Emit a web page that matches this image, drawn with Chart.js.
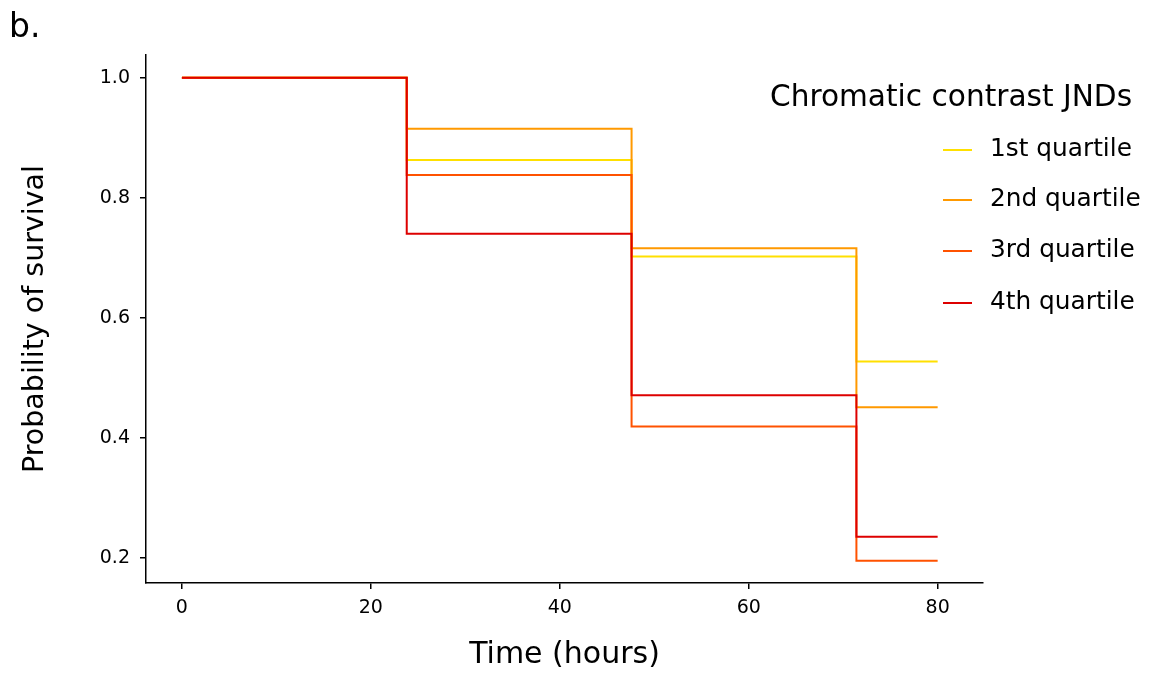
<!DOCTYPE html>
<html>
<head>
<meta charset="utf-8">
<script src="https://cdn.jsdelivr.net/npm/chart.js@4"></script>
<style>
  body { margin: 0; background: #fff; }
  #wrap { width: 1152px; height: 673px; position: relative; }
</style>
</head>
<body>
<div id="wrap"><canvas id="kmChart" width="1152" height="673"></canvas></div>
<script>
// survival curves
const times = [0, 23.8, 47.6, 71.4, 80];
const q1 = [1.0, 0.863, 0.702, 0.527, 0.527];
const q2 = [1.0, 0.915, 0.716, 0.451, 0.451];
const q3 = [1.0, 0.838, 0.419, 0.195, 0.195];
const q4 = [1.0, 0.740, 0.471, 0.235, 0.235];
const seriesNames = ['1st quartile', '2nd quartile', '3rd quartile', '4th quartile'];
const seriesColors = ['#FFE000', '#FF9900', '#FF5200', '#DD0000'];
const xTicks = [0, 20, 40, 60, 80];
const yTicks = [0.2, 0.4, 0.6, 0.8, 1.0];
const legendTitle = 'Chromatic contrast JNDs';

const FONT = "'DejaVu Sans', Verdana, sans-serif";

const toPoints = vals => times.map((t, i) => ({ x: t, y: vals[i] }));

const datasets = [q1, q2, q3, q4].map((vals, i) => ({
  label: seriesNames[i],
  data: toPoints(vals),
  borderColor: seriesColors[i],
  borderWidth: 2,
  pointRadius: 0,
  stepped: 'before',
  fill: false,
  order: 4 - i
}));

// legend and panel letter drawn on top of the plot
const extraText = {
  id: 'extraText',
  afterDraw(chart) {
    const ctx = chart.ctx;
    ctx.save();
    ctx.fillStyle = '#000';
    ctx.textBaseline = 'middle';
    ctx.font = '33px ' + FONT;
    ctx.textAlign = 'left';
    ctx.fillText('b.', 9, 28);

    ctx.font = '29.6px ' + FONT;
    ctx.fillText(legendTitle, 770, 98);
    ctx.font = '24.8px ' + FONT;
    const rows = [150, 200, 251, 303];
    seriesNames.forEach((name, i) => {
      ctx.strokeStyle = seriesColors[i];
      ctx.lineWidth = 2;
      ctx.beginPath();
      ctx.moveTo(943, rows[i]);
      ctx.lineTo(972, rows[i]);
      ctx.stroke();
      ctx.fillText(name, 990, rows[i]);
    });
    ctx.restore();
  }
};

new Chart(document.getElementById('kmChart').getContext('2d'), {
  type: 'line',
  data: { datasets: datasets },
  options: {
    responsive: false,
    animation: false,
    layout: { padding: { top: 55, right: 169, left: 18, bottom: 0 } },
    plugins: {
      legend: { display: false },
      tooltip: { enabled: false }
    },
    scales: {
      x: {
        type: 'linear',
        min: -3.8,
        max: 84.8,
        afterBuildTicks: axis => { axis.ticks = xTicks.map(v => ({ value: v })); },
        afterFit: axis => { axis.height = 90; },
        border: { color: '#000', width: 1.5 },
        grid: { display: true, drawOnChartArea: false, color: '#000', lineWidth: 1.5, tickLength: 6 },
        ticks: { color: '#000', font: { family: FONT, size: 19 }, padding: 8 },
        title: {
          display: true,
          text: 'Time (hours)',
          color: '#000',
          font: { family: FONT, size: 30 },
          padding: { top: 14, bottom: 0 }
        }
      },
      y: {
        type: 'linear',
        min: 0.158,
        max: 1.038,
        afterBuildTicks: axis => { axis.ticks = yTicks.map(v => ({ value: v })); },
        afterFit: axis => { axis.width = 128; },
        border: { color: '#000', width: 1.5 },
        grid: { display: true, drawOnChartArea: false, color: '#000', lineWidth: 1.5, tickLength: 6 },
        ticks: { color: '#000', font: { family: FONT, size: 19 }, padding: 10,
                 callback: v => v.toFixed(1) },
        title: {
          display: true,
          text: 'Probability of survival',
          color: '#000',
          font: { family: FONT, size: 28.5 },
          padding: { top: 0, bottom: 14 }
        }
      }
    }
  },
  plugins: [extraText]
});
</script>
</body>
</html>
